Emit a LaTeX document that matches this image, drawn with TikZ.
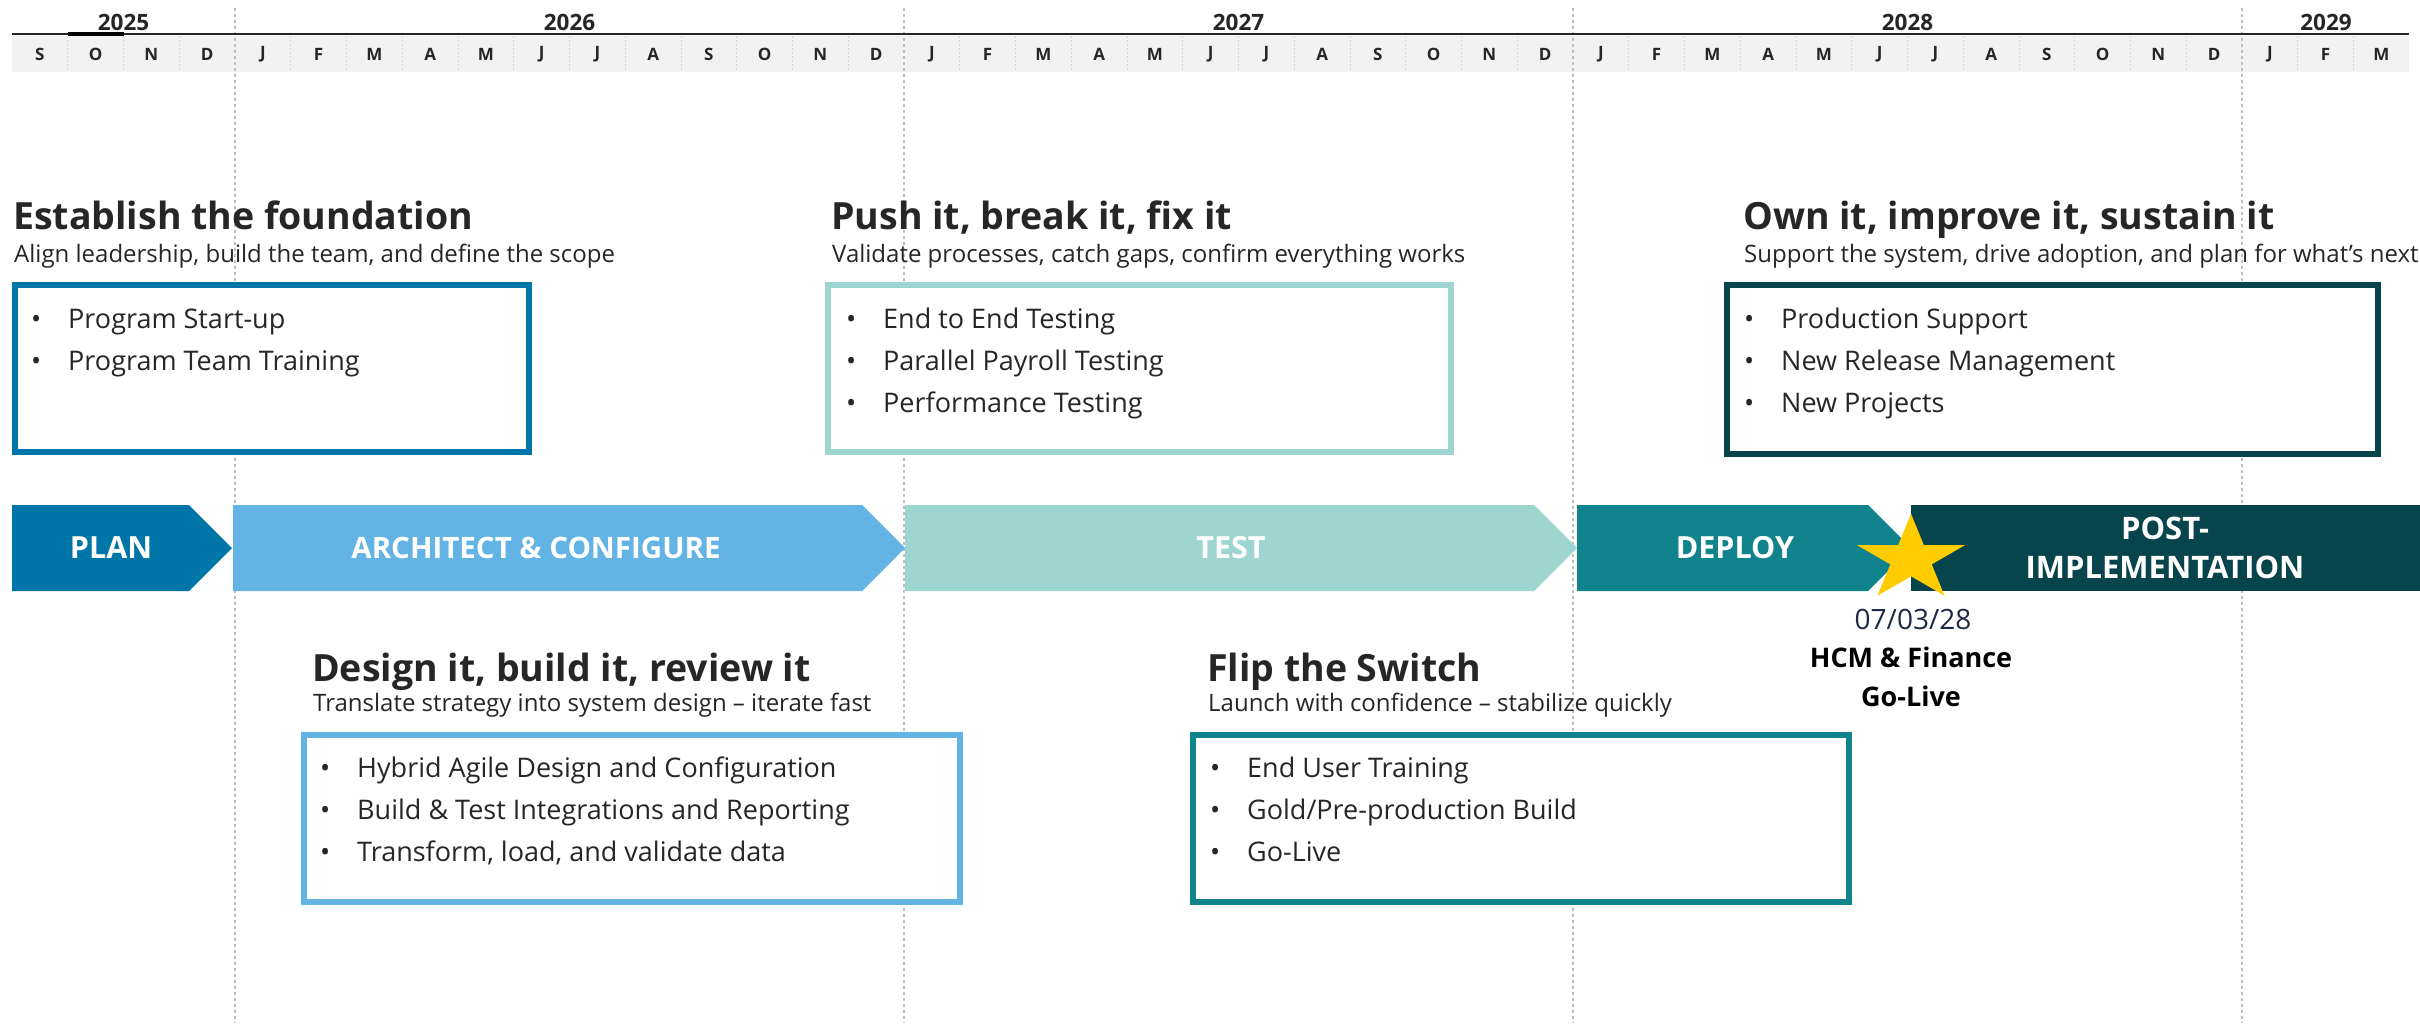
\documentclass[tikz,border=0pt]{standalone}
\usepackage{fontspec}
\setmainfont{Open Sans}
\definecolor{cplan}{HTML}{0075A8}
\definecolor{carch}{HTML}{63B4E4}
\definecolor{ctest}{HTML}{9FD5D1}
\definecolor{cdep}{HTML}{10838C}
\definecolor{cpost}{HTML}{08444B}
\definecolor{cstar}{HTML}{FFCC00}
\definecolor{ctext}{HTML}{262626}
\definecolor{cband}{HTML}{F2F2F2}
\definecolor{cgrid}{HTML}{BDBDBD}
\definecolor{cmsep}{HTML}{D6D6D6}
\definecolor{cdate}{HTML}{1F2A44}
\newcommand\bul[1]{\makebox[37pt][l]{•}#1}
\begin{document}
\begin{tikzpicture}[x=1pt,y=-1pt,
  yearlbl/.style={font=\fontsize{22.5}{24}\selectfont\bfseries, text=ctext, inner sep=0},
  monlbl/.style={font=\fontsize{17}{18}\selectfont\bfseries, text=ctext, inner sep=0},
  yearline/.style={draw=cgrid, line width=1.6pt, dash pattern=on 3pt off 3pt},
  monline/.style={draw=cmsep, line width=0.8pt, dash pattern=on 2pt off 2pt},
  phaselbl/.style={font=\fontsize{30.5}{39}\selectfont\bfseries, text=white, align=center, inner sep=0},
  ttl/.style={anchor=base west, font=\fontsize{37.5}{44}\selectfont\bfseries, text=ctext, inner sep=0},
  sub/.style={anchor=base west, font=\fontsize{24}{28}\selectfont, text=ctext, inner sep=0},
  itm/.style={anchor=base west, font=\fontsize{27}{30}\selectfont, text=ctext, inner sep=0},
  card/.style={line width=6pt, fill=white},
]
\useasboundingbox (0,0) rectangle (2420,1023);
\fill[white] (0,0) rectangle (2420,1023);

% header band
\fill[cband] (12,36) rectangle (2409,71.5);
\foreach \i in {1,2,3,5,6,7,8,9,10,11,12,13,14,15,17,18,19,20,21,22,23,24,25,26,27,29,30,31,32,33,34,35,36,37,38,39,41,42}
  \draw[monline] ({12+\i*55.75},36) -- ({12+\i*55.75},71.5);
\foreach \i in {4,16,28,40}
  \draw[yearline] ({12+\i*55.75},8) -- ({12+\i*55.75},1023);
\draw[ctext, line width=2pt] (12,34.3) -- (2409,34.3);
\draw[black, line width=3.5pt] (67.75,33.8) -- (123.5,33.8);

\foreach \m [count=\i from 0] in {S,O,N,D,J,F,M,A,M,J,J,A,S,O,N,D,J,F,M,A,M,J,J,A,S,O,N,D,J,F,M,A,M,J,J,A,S,O,N,D,J,F,M}
  \node[monlbl] (mon\i) at ({12+(\i+0.5)*55.75},54.5) {\m};

\node[yearlbl] (y2025) at (123.5,22) {2025};
\node[yearlbl] (y2026) at (569.5,22) {2026};
\node[yearlbl] (y2027) at (1238.5,22) {2027};
\node[yearlbl] (y2028) at (1907.5,22) {2028};
\node[yearlbl] (y2029) at (2326,22) {2029};

% phase chevrons
\fill[cplan] (12,505) -- (189,505) -- (232,548) -- (189,591) -- (12,591) -- cycle;
\fill[carch] (233,505) -- (862,505) -- (905,548) -- (862,591) -- (233,591) -- cycle;
\fill[ctest] (905,505) -- (1534,505) -- (1577,548) -- (1534,591) -- (905,591) -- cycle;
\fill[cdep] (1577,505) -- (1868,505) -- (1911,548) -- (1868,591) -- (1577,591) -- cycle;
\fill[cpost] (1911,505) -- (2420,505) -- (2420,591) -- (1911,591) -- cycle;

\node[phaselbl] (pplan) at (111,548) {PLAN};
\node[phaselbl, font=\fontsize{29.5}{39}\selectfont\bfseries] (parch) at (536,548) {ARCHITECT \& CONFIGURE};
\node[phaselbl] (ptest) at (1231,548) {TEST};
\node[phaselbl] (pdep) at (1735,548) {DEPLOY};
\node[phaselbl, font=\fontsize{31}{39}\selectfont\bfseries] (ppost) at (2165,548) {POST-\\IMPLEMENTATION};

% star
\begin{scope}[shift={(1911,559)}, xscale=57, yscale=-45.3]
  \fill[cstar] (90:1) -- (126:0.382) -- (162:1) -- (198:0.382) -- (234:1) -- (270:0.382)
    -- (306:1) -- (342:0.382) -- (18:1) -- (54:0.382) -- cycle;
\end{scope}
\node[font=\fontsize{28}{30}\selectfont, text=cdate, inner sep=0] (gdate) at (1913,619) {07/03/28};
\node[font=\fontsize{27}{39}\selectfont\bfseries, text=black, align=center, inner sep=0] (glive) at (1911,677) {HCM \& Finance\\Go-Live};

% cards
\draw[card, draw=cplan] (15,285) rectangle (529,452);
\draw[card, draw=ctest] (828,285) rectangle (1451,452);
\draw[card, draw=cpost] (1727,285) rectangle (2378,454);
\draw[card, draw=carch] (304,735) rectangle (960,902);
\draw[card, draw=cdep] (1193,735) rectangle (1849,902);

% card texts: Establish
\node[ttl] (t1) at (13,229) {Establish the foundation};
\node[sub] (s1) at (14,262) {Align leadership, build the team, and define the scope};
\node[itm] (a1) at (31,328) {\bul{Program Start-up}};
\node[itm] (a2) at (31,370) {\bul{Program Team Training}};

% Push
\node[ttl] (t2) at (831,229) {Push it, break it, fix it};
\node[sub] (s2) at (832,262) {Validate processes, catch gaps, confirm everything works};
\node[itm] (b1) at (846,328) {\bul{End to End Testing}};
\node[itm] (b2) at (846,370) {\bul{Parallel Payroll Testing}};
\node[itm] (b3) at (846,412) {\bul{Performance Testing}};

% Own
\node[ttl] (t3) at (1743,229) {Own it, improve it, sustain it};
\node[sub] (s3) at (1744,262) {Support the system, drive adoption, and plan for what’s next};
\node[itm] (c1) at (1744,328) {\bul{Production Support}};
\node[itm] (c2) at (1744,370) {\bul{New Release Management}};
\node[itm] (c3) at (1744,412) {\bul{New Projects}};

% Design
\node[ttl] (t4) at (312,681) {Design it, build it, review it};
\node[sub] (s4) at (313,711) {Translate strategy into system design – iterate fast};
\node[itm] (d1) at (320,777) {\bul{Hybrid Agile Design and Configuration}};
\node[itm] (d2) at (320,819) {\bul{Build \& Test Integrations and Reporting}};
\node[itm] (d3) at (320,861) {\bul{Transform, load, and validate data}};

% Flip
\node[ttl] (t5) at (1207,681) {Flip the Switch};
\node[sub] (s5) at (1208,711) {Launch with confidence – stabilize quickly};
\node[itm] (e1) at (1210,777) {\bul{End User Training}};
\node[itm] (e2) at (1210,819) {\bul{Gold/Pre-production Build}};
\node[itm] (e3) at (1210,861) {\bul{Go-Live}};
\end{tikzpicture}
\end{document}
